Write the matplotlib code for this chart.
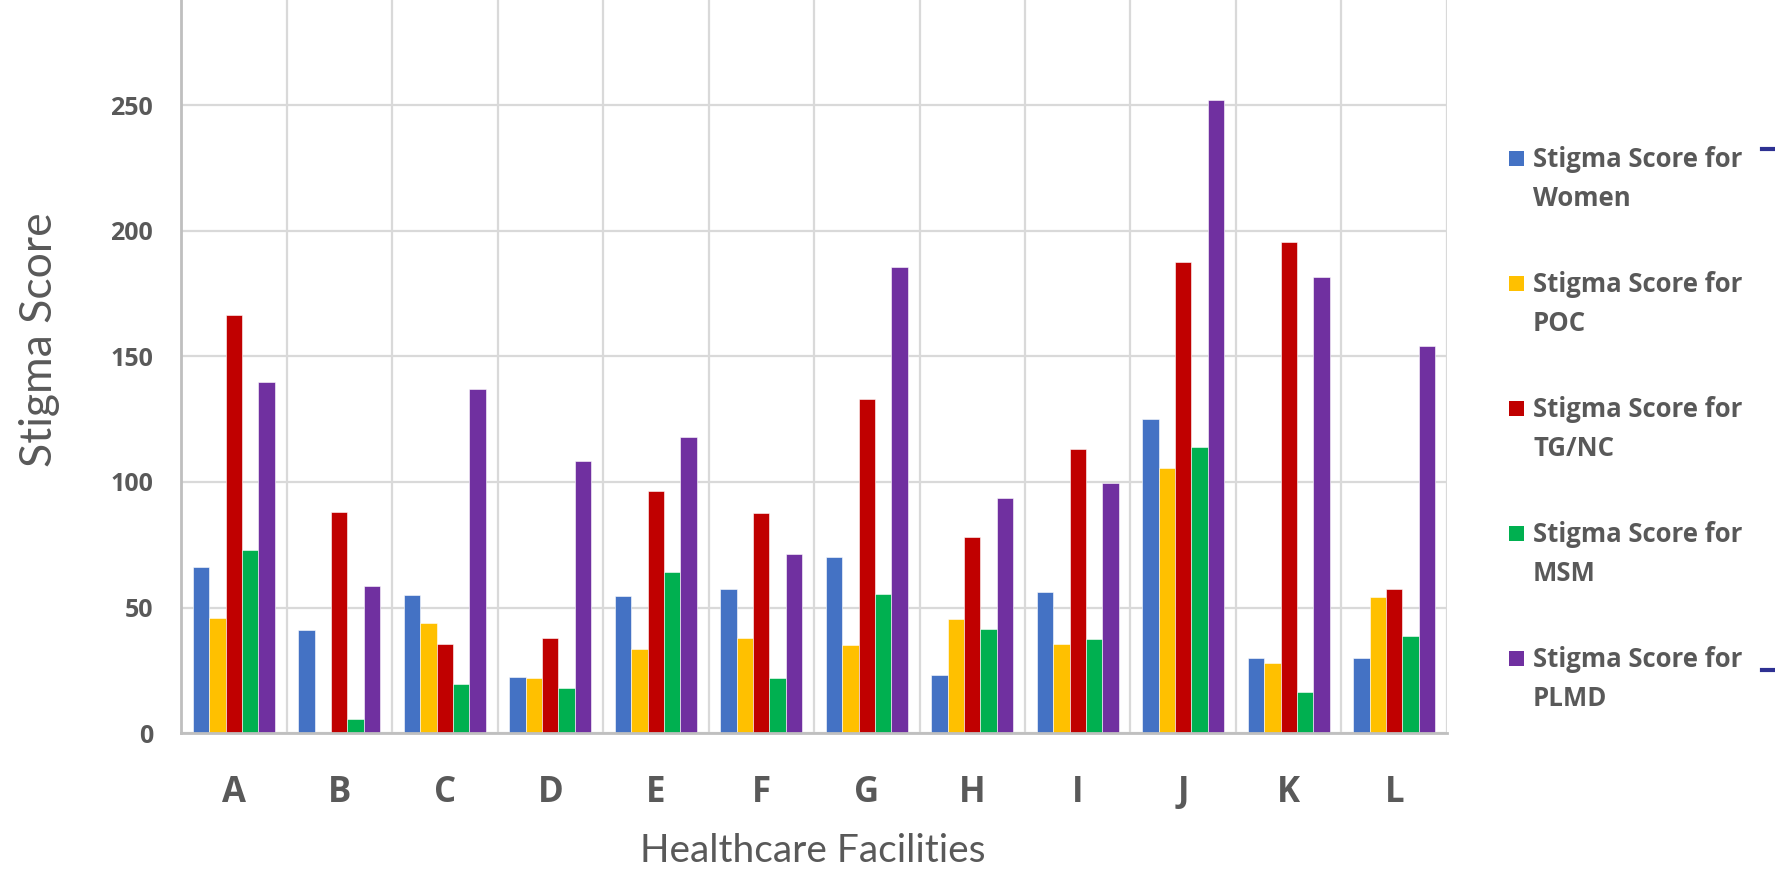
import numpy as np
from matplotlib import pyplot as plt
from matplotlib.patches import Rectangle
from matplotlib.lines import Line2D

facilities = ["A", "B", "C", "D", "E", "F", "G", "H", "I", "J", "K", "L"]
women = [66, 41, 55, 22.5, 54.5, 57.5, 70, 23, 56, 125, 30, 30]
poc = [46, 0, 44, 22, 33.5, 38, 35, 45.5, 35.5, 105.5, 28, 54]
tgnc = [166.5, 88, 35.5, 38, 96.5, 87.5, 133, 78, 113, 187.5, 195.5, 57.5]
msm = [73, 5.5, 19.5, 18, 64, 22, 55.5, 41.5, 37.5, 114, 16.5, 38.5]
plmd = [140, 58.5, 137, 108.5, 118, 71.5, 185.5, 93.5, 99.5, 252, 181.5, 154]
series_names = ["Stigma Score for\nWomen", "Stigma Score for\nPOC", "Stigma Score for\nTG/NC",
                "Stigma Score for\nMSM", "Stigma Score for\nPLMD"]
colors = ["#4472C4", "#FFC000", "#C00000", "#00B050", "#7030A0"]
yticks = [0, 50, 100, 150, 200, 250]

grey = "#595959"
fig = plt.figure(figsize=(17.75, 8.71), dpi=100)
ax = fig.add_axes([0.102, 0.1584, 0.7132, 0.8416])

x = np.arange(len(facilities))
w = 0.1555
all_series = [women, poc, tgnc, msm, plmd]
for i in range(5):
    ax.bar(x + (i - 2) * w, all_series[i], width=w, color=colors[i],
           edgecolor="white", linewidth=0.4, zorder=3)

ax.set_xlim(-0.5, len(facilities) - 0.5)
ax.set_ylim(0, 292)
ax.set_yticks(yticks)
ax.set_xticks(x)
ax.set_xticks(np.arange(-0.5, len(facilities)), minor=True)
ax.set_xticklabels(facilities, fontsize=25, fontweight="bold", color=grey, family="Open Sans")
ax.set_yticklabels([str(v) for v in yticks], fontsize=18, fontweight="bold", color=grey, family="Open Sans")
ax.tick_params(axis="x", which="both", length=0, pad=30)
ax.tick_params(axis="y", length=0, pad=20)
ax.grid(axis="y", color="#D9D9D9", linewidth=1.6, zorder=0)
ax.grid(axis="x", which="minor", color="#D9D9D9", linewidth=1.6, zorder=0)
ax.grid(axis="x", which="major", visible=False)
for s in ["top", "right"]:
    ax.spines[s].set_visible(False)
for s in ["left", "bottom"]:
    ax.spines[s].set_color("#BFBFBF")
    ax.spines[s].set_linewidth(2)
    ax.spines[s].set_zorder(4)

fig.text(40 / 1775, 1 - 340 / 871, "Stigma Score", rotation=90, fontsize=32, color=grey,
         family="Lato", fontweight="normal", ha="center", va="center")
fig.text(813 / 1775, 20 / 871, "Healthcare Facilities", fontsize=28, color=grey,
         family="Lato", fontweight="normal", ha="center", va="center")

# legend drawn by hand so the square sits on the first line
for i in range(5):
    yc = 158.5 + i * 125
    fig.patches.append(Rectangle(((1516 - 7.5) / 1775, 1 - (yc + 7.5) / 871), 15 / 1775, 15 / 871,
                                 transform=fig.transFigure, facecolor=colors[i], edgecolor="none"))
    fig.text(1533 / 1775, 1 - (yc - 12.5) / 871, series_names[i], fontsize=18.5, fontweight="bold",
             color=grey, family="Open Sans", ha="left", va="top", linespacing=1.55)

# cut-off bracket marks at the right edge
for yy in [149, 670]:
    fig.lines.append(Line2D([1762 / 1775, 1.0], [1 - yy / 871] * 2, transform=fig.transFigure,
                            color="#2E3192", linewidth=3))

plt.savefig("out.png", dpi=100)
